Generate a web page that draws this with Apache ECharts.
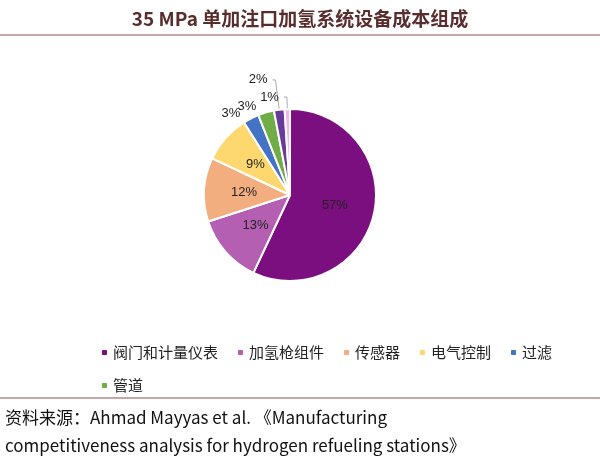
<!DOCTYPE html><html><head><meta charset="utf-8"><script src="https://cdn.jsdelivr.net/npm/echarts@6/dist/echarts.min.js"></script></head><body style="margin:0;background:#fff"><div id="c" style="width:600px;height:465px"></div><script>
const names=['阀门和计量仪表','加氢枪组件','传感器','电气控制','过滤','管道','其他A','其他B'];
const values=[57,13,12,9,3,3,2,1];
const colors=['#7b0f7f','#b45fb1','#f3ae80','#fdd86e','#4472c4','#70ad47','#6a3a9a','#f2b6e8'];
const legendNames=names.slice(0,6);
const data=names.map((n,i)=>{const o={name:n,value:values[i],itemStyle:{color:colors[i]}};
 if(values[i]<=3){o.label={position:'outside',color:'#222'};o.labelLine={show:i>=6,length:i>=6?(i==6?30:12):6,length2:3,lineStyle:{color:'#aaa'}};} return o;});
const ch=echarts.init(document.getElementById('c'));
ch.setOption({
 title:{text:'35 MPa 单加注口加氢系统设备成本组成',left:'center',top:4,textStyle:{fontSize:19,fontWeight:'bold',color:'#5a2d2d',fontFamily:'Noto Sans CJK SC'}},
 legend:{data:legendNames,left:95,top:340,width:460,itemWidth:7,itemHeight:7,itemGap:18,textStyle:{fontSize:15,color:'#222',fontFamily:'Noto Sans CJK SC',width:118}},
 graphic:[
  {type:'line',shape:{x1:0,y1:35,x2:600,y2:35},style:{stroke:'#8b5050',lineWidth:1}},
  {type:'line',shape:{x1:0,y1:398,x2:600,y2:398},style:{stroke:'#8b5050',lineWidth:1}},
  {type:'text',left:5,top:404,style:{text:'资料来源：Ahmad Mayyas et al. 《Manufacturing\ncompetitiveness analysis for hydrogen refueling stations》',fontSize:17,lineHeight:28,fill:'#111',fontFamily:'Noto Sans CJK SC'}}
 ],
 series:[{type:'pie',center:[290,195],radius:[0,86],startAngle:90,clockwise:true,avoidLabelOverlap:false,
  labelLayout:{hideOverlap:false},
  itemStyle:{borderColor:'#fff',borderWidth:2},
  label:{position:'inside',formatter:'{c}%',fontSize:13,color:'#222',fontFamily:'Liberation Sans'},
  data:data}]
});
</script></body></html>
